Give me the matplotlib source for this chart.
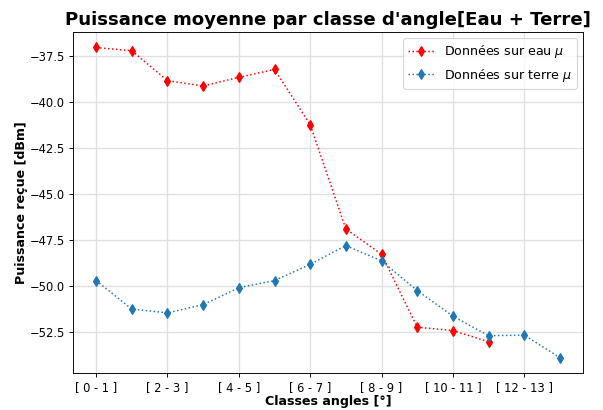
import matplotlib
matplotlib.use('Agg')
import matplotlib.pyplot as plt
import numpy as np

# Classes d'angles (1 degré chacune)
classes = ['[ %d - %d ]' % (i, i + 1) for i in range(14)]

# Puissance moyenne reçue (dBm)
eau_mu = [-37.06, -37.24, -38.86, -39.15, -38.68, -38.25, -41.25,
          -46.91, -48.28, -52.24, -52.42, -53.03]
terre_mu = [-49.71, -51.26, -51.46, -51.02, -50.10, -49.71, -48.83,
            -47.81, -48.64, -50.25, -51.64, -52.70, -52.67, -53.89]

# figure "réduite" : dpi 83 pour retrouver l'échelle de l'image
dpi = 83
fig = plt.figure(figsize=(603 / dpi, 410 / dpi), dpi=dpi)
ax = fig.add_axes([0.121, 0.090, 0.846, 0.832])

x_eau = np.arange(len(eau_mu))
x_terre = np.arange(len(terre_mu))

ax.plot(x_eau, eau_mu, ':', marker='d', color='red', markersize=6,
        linewidth=1.3, label=r'Données sur eau $\mu$')
ax.plot(x_terre, terre_mu, ':', marker='d', color='C0', markersize=6,
        linewidth=1.3, label=r'Données sur terre $\mu$')

ax.set_xticks(x_terre[::2])
ax.set_xticklabels(classes[::2])
ax.grid(True, color='#e0e0e0', linewidth=1.2)
ax.set_axisbelow(True)

ax.set_title("Puissance moyenne par classe d'angle[Eau + Terre]",
             fontsize=15.7, fontweight='bold')
ax.set_xlabel('Classes angles [°]', fontsize=11, fontweight='bold', labelpad=1)
ax.set_ylabel('Puissance reçue [dBm]', fontsize=11, fontweight='bold', labelpad=1)
ax.legend(loc='upper right', fontsize=11)

fig.savefig('out.png', dpi=dpi)
